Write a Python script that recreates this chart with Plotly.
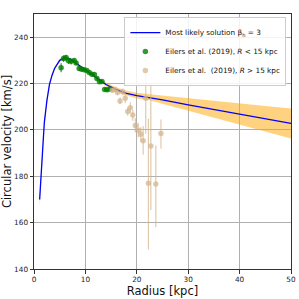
import plotly.graph_objects as go

# Model curve (most likely solution) and its uncertainty band
R_model = [1.1, 1.4, 1.7, 2.0, 2.5, 3.0, 3.5, 4.0, 5.0, 6.0, 7.0, 8.0, 10.0, 12.0, 14.0,
           16.0, 18.0, 20.0, 22.5, 25.0, 30.0, 35.0, 40.0, 45.0, 50.0]
v_best = [170.0, 181.0, 192.0, 203.0, 212.5, 219.5, 223.5, 226.5, 230.0, 231.2, 230.6, 229.0,
          225.8, 222.6, 219.6, 217.4, 215.8, 214.8, 214.0, 213.0, 210.8, 208.8, 206.8, 204.8, 202.8]
v_lo = [166.5, 178.0, 189.5, 201.0, 211.0, 218.5, 222.7, 225.8, 229.4, 230.6, 230.0, 228.4,
        225.2, 221.9, 218.8, 216.5, 214.8, 213.6, 212.8, 211.3, 208.3, 205.2, 202.2, 199.2, 196.3]
v_hi = [171.5, 183.0, 194.0, 204.5, 213.5, 220.3, 224.2, 227.1, 230.5, 231.7, 231.1, 229.5,
        226.4, 223.3, 220.5, 218.4, 216.9, 216.0, 215.4, 214.8, 213.7, 212.6, 211.4, 210.3, 209.2]

# Eilers et al. (2019), R < 15 kpc
R_in = [5.27, 5.74, 6.23, 6.73, 7.22, 7.82, 8.19, 8.78, 9.27, 9.76, 10.26, 10.75, 11.25,
        11.75, 12.25, 12.74, 13.23, 13.74, 14.24, 14.74]
v_in = [226.83, 230.80, 231.20, 229.88, 229.61, 229.91, 228.86, 226.50, 226.20, 225.94,
        225.68, 224.73, 224.02, 223.86, 222.23, 220.77, 220.92, 217.47, 217.31, 217.60]
e_in_lo = [1.91, 1.43, 1.70, 1.44, 1.37, 0.92, 0.80, 1.07, 0.72, 0.42, 0.44, 0.38, 0.33,
           0.40, 0.51, 0.54, 0.57, 0.64, 0.77, 0.65]
e_in_hi = [1.90, 1.35, 1.10, 1.32, 1.11, 0.88, 0.67, 0.95, 0.62, 0.52, 0.40, 0.41, 0.54,
           0.42, 0.37, 0.50, 0.61, 0.84, 0.71, 0.67]

# Eilers et al. (2019), R > 15 kpc
R_out = [15.22, 15.74, 16.24, 16.74, 17.25, 17.75, 18.24, 18.74, 19.22, 19.71, 20.27,
         20.78, 21.24, 21.74, 22.26, 22.73, 23.70, 24.70]
v_out = [217.07, 217.38, 216.14, 212.52, 216.41, 213.70, 207.89, 209.60, 206.45, 201.91,
         199.84, 198.14, 195.30, 213.67, 176.97, 193.11, 176.63, 198.42]
e_out_lo = [1.06, 0.84, 1.20, 1.39, 1.44, 2.22, 1.76, 2.31, 2.54, 2.99, 3.15, 3.33, 5.99,
            15.38, 28.58, 27.64, 18.67, 6.50]
e_out_hi = [0.86, 0.95, 1.13, 1.51, 1.40, 2.49, 1.85, 2.29, 2.16, 3.21, 3.25, 3.00, 6.37,
            12.43, 27.80, 26.44, 16.64, 6.08]

x_ticks = [0, 10, 20, 30, 40, 50]
y_ticks = [140, 160, 180, 200, 220, 240]

FONT = "DejaVu Sans"
fig = go.Figure()

fig.add_trace(go.Scatter(x=R_model, y=v_lo, mode="lines", line=dict(width=0),
                         hoverinfo="skip", showlegend=False))
fig.add_trace(go.Scatter(x=R_model, y=v_hi, mode="lines", line=dict(width=0),
                         fill="tonexty", fillcolor="rgba(255,165,0,0.5)",
                         hoverinfo="skip", showlegend=False))
fig.add_trace(go.Scatter(x=R_model, y=v_best, mode="lines",
                         line=dict(color="#0000ff", width=1.3),
                         name="Most likely solution β<sub>h</sub> = 3"))
fig.add_trace(go.Scatter(x=R_in, y=v_in, mode="markers",
                         marker=dict(color="rgba(0,128,0,0.8)", size=5.5),
                         error_y=dict(type="data", symmetric=False, array=e_in_hi,
                                      arrayminus=e_in_lo, color="rgba(0,128,0,0.8)",
                                      thickness=1.2, width=0),
                         name="Eilers et al. (2019), <i>R</i> &lt; 15 kpc"))
fig.add_trace(go.Scatter(x=R_out, y=v_out, mode="markers",
                         marker=dict(color="rgba(210,180,140,0.7)", size=5.5),
                         error_y=dict(type="data", symmetric=False, array=e_out_hi,
                                      arrayminus=e_out_lo, color="rgba(210,180,140,0.7)",
                                      thickness=1.2, width=0),
                         name="Eilers et al.  (2019), <i>R</i> &gt; 15 kpc"))

axis_common = dict(showgrid=True, gridcolor="#b0b0b0", gridwidth=0.8,
                   showline=True, linecolor="#333333", linewidth=1, mirror=True,
                   ticks="outside", ticklen=3.5, tickwidth=0.8, tickcolor="#333333",
                   tickfont=dict(family=FONT, size=7.3, color="#222222"),
                   zeroline=False, automargin=False)

fig.update_xaxes(range=[0, 50], tickvals=x_ticks, ticktext=[str(t) for t in x_ticks],
                 title=dict(text="Radius [kpc]", font=dict(family=FONT, size=11.5, color="#111111"),
                            standoff=0),
                 **axis_common)
fig.update_yaxes(range=[140, 250], tickvals=y_ticks, ticktext=[str(t) for t in y_ticks],
                 title=dict(text="Circular velocity [km/s]",
                            font=dict(family=FONT, size=11.5, color="#111111"), standoff=2),
                 **axis_common)

fig.update_layout(
    width=299, height=299,
    margin=dict(l=34, r=8, t=14, b=30, autoexpand=False),
    paper_bgcolor="white", plot_bgcolor="white",
    font=dict(family=FONT, color="#111111"),
    legend=dict(x=0.982, y=0.988, xanchor="right", yanchor="top",
                traceorder="normal",
                bgcolor="rgba(255,255,255,0.85)", bordercolor="#cccccc", borderwidth=1,
                font=dict(family=FONT, size=7.3, color="#111111"),
                itemwidth=30, tracegroupgap=0),
    showlegend=True,
)

fig.write_html("out.html", config={"displayModeBar": False},
               post_script="document.body.style.margin='0';document.body.style.overflow='hidden';")
